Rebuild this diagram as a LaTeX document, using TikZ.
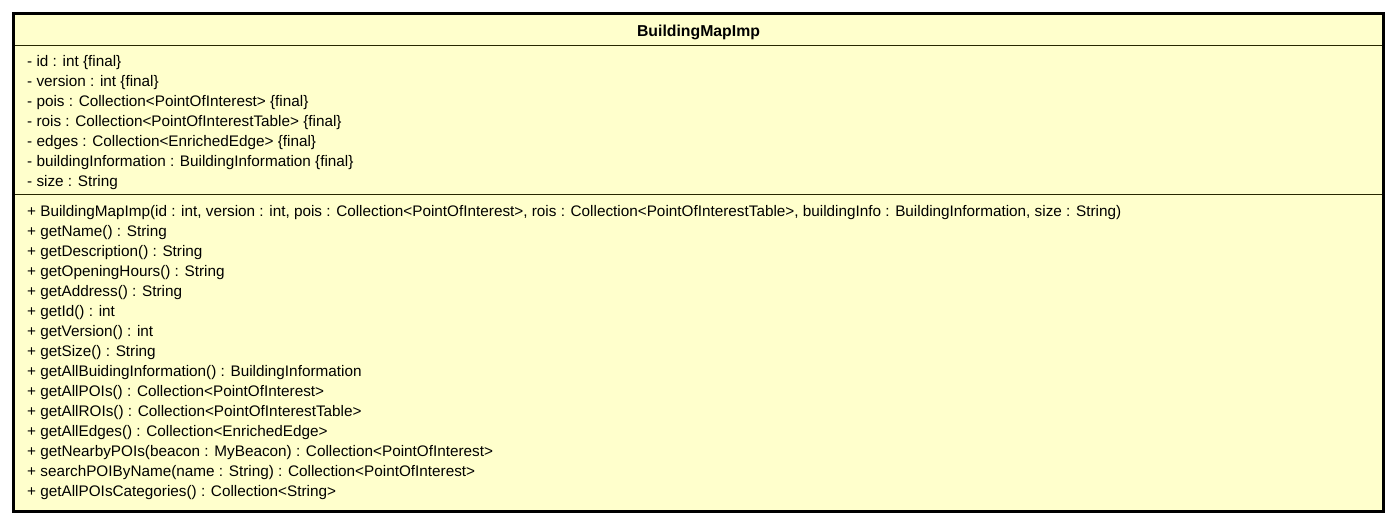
\documentclass[tikz,border=0pt]{standalone}
\usepackage{fontspec}
\setmainfont{Liberation Sans}
\definecolor{classfill}{RGB}{255,255,204}
\definecolor{classline}{RGB}{40,40,0}
\tikzset{
  member/.style={anchor=base west,inner sep=0pt,font=\fontsize{15.3}{17}\selectfont},
  title/.style={anchor=base,inner sep=0pt,font=\fontsize{15.8}{17}\selectfont\bfseries}
}

\begin{document}
\begin{tikzpicture}[x=1pt,y=-1pt]
\useasboundingbox (0,0) rectangle (1396,525);
% class box
\path[fill=classfill] (13.5,13.5) rectangle (1383.5,511.5);
\draw[classline,line width=1pt] (13.5,45) -- (1383.5,45);
\draw[classline,line width=1pt] (13.5,194) -- (1383.5,194);
\draw[line width=3pt] (13.5,13.5) rectangle (1383.5,511.5);
\node[title] (name) at (698.5,36.5) {BuildingMapImp};
% attributes
\foreach \txt [count=\i] in {
  {- id : int \{final\}},
  {- version : int \{final\}},
  {- pois : Collection<PointOfInterest> \{final\}},
  {- rois : Collection<PointOfInterestTable> \{final\}},
  {- edges : Collection<EnrichedEdge> \{final\}},
  {- buildingInformation : BuildingInformation \{final\}},
  {- size : String}}
  \node[member] (attr\i) at (27,46.5+20*\i) {\txt};
% operations
\foreach \txt [count=\i] in {
  {+ BuildingMapImp(id : int, version : int, pois : Collection<PointOfInterest>, rois : Collection<PointOfInterestTable>, buildingInfo : BuildingInformation, size : String)},
  {+ getName() : String},
  {+ getDescription() : String},
  {+ getOpeningHours() : String},
  {+ getAddress() : String},
  {+ getId() : int},
  {+ getVersion() : int},
  {+ getSize() : String},
  {+ getAllBuidingInformation() : BuildingInformation},
  {+ getAllPOIs() : Collection<PointOfInterest>},
  {+ getAllROIs() : Collection<PointOfInterestTable>},
  {+ getAllEdges() : Collection<EnrichedEdge>},
  {+ getNearbyPOIs(beacon : MyBeacon) : Collection<PointOfInterest>},
  {+ searchPOIByName(name : String) : Collection<PointOfInterest>},
  {+ getAllPOIsCategories() : Collection<String>}}
  \node[member] (op\i) at (27,196.5+20*\i) {\txt};
\end{tikzpicture}
\end{document}
